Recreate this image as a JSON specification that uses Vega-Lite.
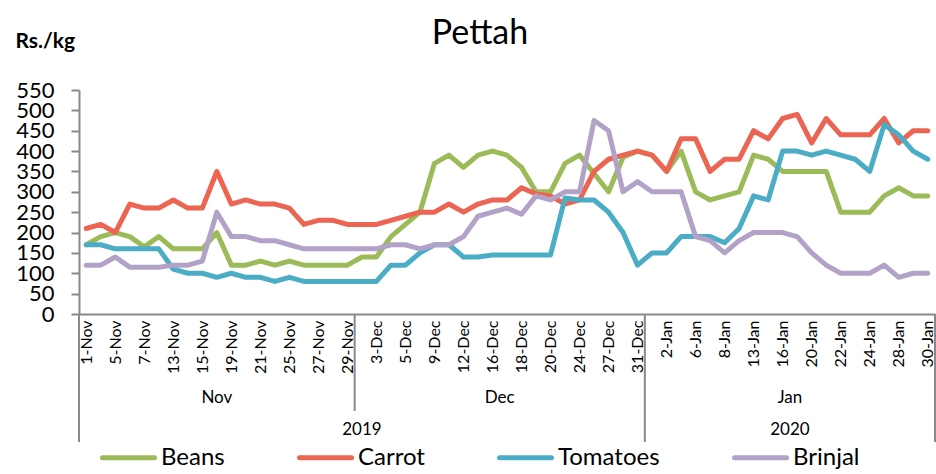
{
  "$schema": "https://vega.github.io/schema/vega-lite/v6.json",
  "width": 856,
  "height": 224,
  "autosize": {"type": "none"},
  "padding": {"left": 79, "top": 90, "right": 1, "bottom": 160},
  "background": "white",
  "config": {"font": "Lato", "view": {"stroke": null}},
  "title": {"text": "Pettah", "fontSize": 34, "font": "Lato", "fontWeight": "normal", "color": "black", "anchor": "middle", "frame": "group", "dx": -27, "dy": 21, "offset": 0},
  "datasets": {
    "prices": [
      {"d": "1-Nov", "Beans": 170, "Carrot": 210, "Tomatoes": 170, "Brinjal": 120},
      {"d": "4-Nov", "Beans": 190, "Carrot": 220, "Tomatoes": 170, "Brinjal": 120},
      {"d": "5-Nov", "Beans": 200, "Carrot": 200, "Tomatoes": 160, "Brinjal": 140},
      {"d": "6-Nov", "Beans": 190, "Carrot": 270, "Tomatoes": 160, "Brinjal": 115},
      {"d": "7-Nov", "Beans": 165, "Carrot": 260, "Tomatoes": 160, "Brinjal": 115},
      {"d": "12-Nov", "Beans": 190, "Carrot": 260, "Tomatoes": 160, "Brinjal": 115},
      {"d": "13-Nov", "Beans": 160, "Carrot": 280, "Tomatoes": 110, "Brinjal": 120},
      {"d": "14-Nov", "Beans": 160, "Carrot": 260, "Tomatoes": 100, "Brinjal": 120},
      {"d": "15-Nov", "Beans": 160, "Carrot": 260, "Tomatoes": 100, "Brinjal": 130},
      {"d": "18-Nov", "Beans": 200, "Carrot": 350, "Tomatoes": 90, "Brinjal": 250},
      {"d": "19-Nov", "Beans": 120, "Carrot": 270, "Tomatoes": 100, "Brinjal": 190},
      {"d": "20-Nov", "Beans": 120, "Carrot": 280, "Tomatoes": 90, "Brinjal": 190},
      {"d": "21-Nov", "Beans": 130, "Carrot": 270, "Tomatoes": 90, "Brinjal": 180},
      {"d": "22-Nov", "Beans": 120, "Carrot": 270, "Tomatoes": 80, "Brinjal": 180},
      {"d": "25-Nov", "Beans": 130, "Carrot": 260, "Tomatoes": 90, "Brinjal": 170},
      {"d": "26-Nov", "Beans": 120, "Carrot": 220, "Tomatoes": 80, "Brinjal": 160},
      {"d": "27-Nov", "Beans": 120, "Carrot": 230, "Tomatoes": 80, "Brinjal": 160},
      {"d": "28-Nov", "Beans": 120, "Carrot": 230, "Tomatoes": 80, "Brinjal": 160},
      {"d": "29-Nov", "Beans": 120, "Carrot": 220, "Tomatoes": 80, "Brinjal": 160},
      {"d": "2-Dec", "Beans": 140, "Carrot": 220, "Tomatoes": 80, "Brinjal": 160},
      {"d": "3-Dec", "Beans": 140, "Carrot": 220, "Tomatoes": 80, "Brinjal": 160},
      {"d": "4-Dec", "Beans": 190, "Carrot": 230, "Tomatoes": 120, "Brinjal": 170},
      {"d": "5-Dec", "Beans": 220, "Carrot": 240, "Tomatoes": 120, "Brinjal": 170},
      {"d": "6-Dec", "Beans": 250, "Carrot": 250, "Tomatoes": 150, "Brinjal": 160},
      {"d": "9-Dec", "Beans": 370, "Carrot": 250, "Tomatoes": 170, "Brinjal": 170},
      {"d": "11-Dec", "Beans": 390, "Carrot": 270, "Tomatoes": 170, "Brinjal": 170},
      {"d": "12-Dec", "Beans": 360, "Carrot": 250, "Tomatoes": 140, "Brinjal": 190},
      {"d": "13-Dec", "Beans": 390, "Carrot": 270, "Tomatoes": 140, "Brinjal": 240},
      {"d": "16-Dec", "Beans": 400, "Carrot": 280, "Tomatoes": 145, "Brinjal": 250},
      {"d": "17-Dec", "Beans": 390, "Carrot": 280, "Tomatoes": 145, "Brinjal": 260},
      {"d": "18-Dec", "Beans": 360, "Carrot": 310, "Tomatoes": 145, "Brinjal": 245},
      {"d": "19-Dec", "Beans": 300, "Carrot": 295, "Tomatoes": 145, "Brinjal": 290},
      {"d": "20-Dec", "Beans": 300, "Carrot": 290, "Tomatoes": 145, "Brinjal": 280},
      {"d": "23-Dec", "Beans": 370, "Carrot": 270, "Tomatoes": 285, "Brinjal": 300},
      {"d": "24-Dec", "Beans": 390, "Carrot": 280, "Tomatoes": 280, "Brinjal": 300},
      {"d": "26-Dec", "Beans": 345, "Carrot": 350, "Tomatoes": 280, "Brinjal": 475},
      {"d": "27-Dec", "Beans": 300, "Carrot": 380, "Tomatoes": 250, "Brinjal": 450},
      {"d": "30-Dec", "Beans": 385, "Carrot": 390, "Tomatoes": 200, "Brinjal": 300},
      {"d": "31-Dec", "Beans": 400, "Carrot": 400, "Tomatoes": 120, "Brinjal": 325},
      {"d": "1-Jan", "Beans": 390, "Carrot": 390, "Tomatoes": 150, "Brinjal": 300},
      {"d": "2-Jan", "Beans": 350, "Carrot": 350, "Tomatoes": 150, "Brinjal": 300},
      {"d": "3-Jan", "Beans": 400, "Carrot": 430, "Tomatoes": 190, "Brinjal": 300},
      {"d": "6-Jan", "Beans": 300, "Carrot": 430, "Tomatoes": 190, "Brinjal": 190},
      {"d": "7-Jan", "Beans": 280, "Carrot": 350, "Tomatoes": 190, "Brinjal": 180},
      {"d": "8-Jan", "Beans": 290, "Carrot": 380, "Tomatoes": 175, "Brinjal": 150},
      {"d": "10-Jan", "Beans": 300, "Carrot": 380, "Tomatoes": 210, "Brinjal": 180},
      {"d": "13-Jan", "Beans": 390, "Carrot": 450, "Tomatoes": 290, "Brinjal": 200},
      {"d": "14-Jan", "Beans": 380, "Carrot": 430, "Tomatoes": 280, "Brinjal": 200},
      {"d": "16-Jan", "Beans": 350, "Carrot": 480, "Tomatoes": 400, "Brinjal": 200},
      {"d": "17-Jan", "Beans": 350, "Carrot": 490, "Tomatoes": 400, "Brinjal": 190},
      {"d": "20-Jan", "Beans": 350, "Carrot": 420, "Tomatoes": 390, "Brinjal": 150},
      {"d": "21-Jan", "Beans": 350, "Carrot": 480, "Tomatoes": 400, "Brinjal": 120},
      {"d": "22-Jan", "Beans": 250, "Carrot": 440, "Tomatoes": 390, "Brinjal": 100},
      {"d": "23-Jan", "Beans": 250, "Carrot": 440, "Tomatoes": 380, "Brinjal": 100},
      {"d": "24-Jan", "Beans": 250, "Carrot": 440, "Tomatoes": 350, "Brinjal": 100},
      {"d": "27-Jan", "Beans": 290, "Carrot": 480, "Tomatoes": 465, "Brinjal": 120},
      {"d": "28-Jan", "Beans": 310, "Carrot": 420, "Tomatoes": 440, "Brinjal": 90},
      {"d": "29-Jan", "Beans": 290, "Carrot": 450, "Tomatoes": 400, "Brinjal": 100},
      {"d": "30-Jan", "Beans": 290, "Carrot": 450, "Tomatoes": 380, "Brinjal": 100}
    ]
  },
  "encoding": {
    "x": {
      "field": "d", "type": "ordinal", "title": null,
      "scale": {
        "type": "point", "padding": 0.5,
        "domain": ["1-Nov","4-Nov","5-Nov","6-Nov","7-Nov","12-Nov","13-Nov","14-Nov","15-Nov","18-Nov","19-Nov","20-Nov","21-Nov","22-Nov","25-Nov","26-Nov","27-Nov","28-Nov","29-Nov","2-Dec","3-Dec","4-Dec","5-Dec","6-Dec","9-Dec","11-Dec","12-Dec","13-Dec","16-Dec","17-Dec","18-Dec","19-Dec","20-Dec","23-Dec","24-Dec","26-Dec","27-Dec","30-Dec","31-Dec","1-Jan","2-Jan","3-Jan","6-Jan","7-Jan","8-Jan","10-Jan","13-Jan","14-Jan","16-Jan","17-Jan","20-Jan","21-Jan","22-Jan","23-Jan","24-Jan","27-Jan","28-Jan","29-Jan","30-Jan"]
      },
      "axis": {
        "values": ["1-Nov","5-Nov","7-Nov","13-Nov","15-Nov","19-Nov","21-Nov","25-Nov","27-Nov","29-Nov","3-Dec","5-Dec","9-Dec","12-Dec","16-Dec","18-Dec","20-Dec","24-Dec","27-Dec","31-Dec","2-Jan","6-Jan","8-Jan","13-Jan","16-Jan","20-Jan","22-Jan","24-Jan","28-Jan","30-Jan"],
        "title": null, "labelAngle": -90, "ticks": false, "grid": false,
        "domainColor": "#898989", "domainWidth": 2,
        "labelFont": "Lato", "labelFontSize": 16, "labelColor": "black", "labelPadding": 6, "labelOverlap": false
      }
    }
  },
  "layer": [
    {
      "data": {"name": "prices"},
      "transform": [{"fold": ["Beans", "Carrot", "Tomatoes", "Brinjal"], "as": ["item", "price"]}],
      "encoding": {
        "y": {
          "field": "price", "type": "quantitative",
          "scale": {"domain": [0, 550], "nice": false, "zero": true},
          "axis": {
            "values": [0,50,100,150,200,250,300,350,400,450,500,550],
            "grid": false, "domainColor": "#898989", "domainWidth": 2,
            "tickColor": "#898989", "tickWidth": 2, "tickSize": 8,
            "labelFont": "Lato", "labelFontSize": 22, "labelColor": "black", "labelPadding": 17, "labelOverlap": false,
            "title": "Rs./kg", "titleAngle": 0, "titleAlign": "left", "titleBaseline": "alphabetic",
            "titleX": -64, "titleY": -43, "titleFont": "Lato", "titleFontSize": 21, "titleFontWeight": "bold", "titleColor": "black"
          }
        },
        "color": {
          "field": "item", "type": "nominal",
          "scale": {"domain": ["Beans", "Carrot", "Tomatoes", "Brinjal"], "range": ["#9BBB59", "#EC6452", "#4BACC6", "#B3A2C7"]},
          "legend": {
            "title": null, "orient": "none", "direction": "horizontal", "legendX": 21, "legendY": 339,
            "symbolType": "stroke", "symbolSize": 2704, "symbolStrokeWidth": 5,
            "labelFont": "Lato", "labelFontSize": 24, "labelColor": "black", "labelOffset": 4, "labelLimit": 300,
            "columnPadding": 64, "padding": 0,
            "encode": {"symbols": {"update": {"strokeCap": {"value": "round"}}}}
          }
        }
      },
      "layer": [
        {"transform": [{"filter": "datum.item == 'Beans'"}], "mark": {"type": "line", "strokeWidth": 5, "strokeJoin": "round", "strokeCap": "round"}},
        {"transform": [{"filter": "datum.item == 'Carrot'"}], "mark": {"type": "line", "strokeWidth": 5, "strokeJoin": "round", "strokeCap": "round"}},
        {"transform": [{"filter": "datum.item == 'Tomatoes'"}], "mark": {"type": "line", "strokeWidth": 5, "strokeJoin": "round", "strokeCap": "round"}},
        {"transform": [{"filter": "datum.item == 'Brinjal'"}], "mark": {"type": "line", "strokeWidth": 5, "strokeJoin": "round", "strokeCap": "round"}}
      ]
    },
    {
      "data": {"values": [{"d": "1-Nov"}]},
      "mark": {"type": "rule", "color": "#898989", "strokeWidth": 2, "xOffset": -7.25},
      "encoding": {"y": {"value": 224}, "y2": {"value": 352}}
    },
    {
      "data": {"values": [{"d": "29-Nov"}]},
      "mark": {"type": "rule", "color": "#898989", "strokeWidth": 2, "xOffset": 7.25},
      "encoding": {"y": {"value": 224}, "y2": {"value": 321}}
    },
    {
      "data": {"values": [{"d": "31-Dec"}, {"d": "30-Jan"}]},
      "mark": {"type": "rule", "color": "#898989", "strokeWidth": 2, "xOffset": 7.25},
      "encoding": {"y": {"value": 224}, "y2": {"value": 352}}
    },
    {
      "data": {"values": [{"d": "18-Nov", "label": "Nov"}]},
      "mark": {"type": "text", "font": "Lato", "fontSize": 17, "color": "black", "baseline": "middle", "align": "center"},
      "encoding": {"y": {"value": 308}, "text": {"field": "label"}}
    },
    {
      "data": {"values": [{"d": "16-Dec", "label": "Dec"}, {"d": "16-Jan", "label": "Jan"}]},
      "mark": {"type": "text", "font": "Lato", "fontSize": 17, "color": "black", "baseline": "middle", "align": "center", "dx": 7.25},
      "encoding": {"y": {"value": 308}, "text": {"field": "label"}}
    },
    {
      "data": {"values": [{"d": "2-Dec", "label": "2019"}]},
      "mark": {"type": "text", "font": "Lato", "fontSize": 17, "color": "black", "baseline": "middle", "align": "center"},
      "encoding": {"y": {"value": 340}, "text": {"field": "label"}}
    },
    {
      "data": {"values": [{"d": "16-Jan", "label": "2020"}]},
      "mark": {"type": "text", "font": "Lato", "fontSize": 17, "color": "black", "baseline": "middle", "align": "center", "dx": 7.25},
      "encoding": {"y": {"value": 340}, "text": {"field": "label"}}
    }
  ]
}
